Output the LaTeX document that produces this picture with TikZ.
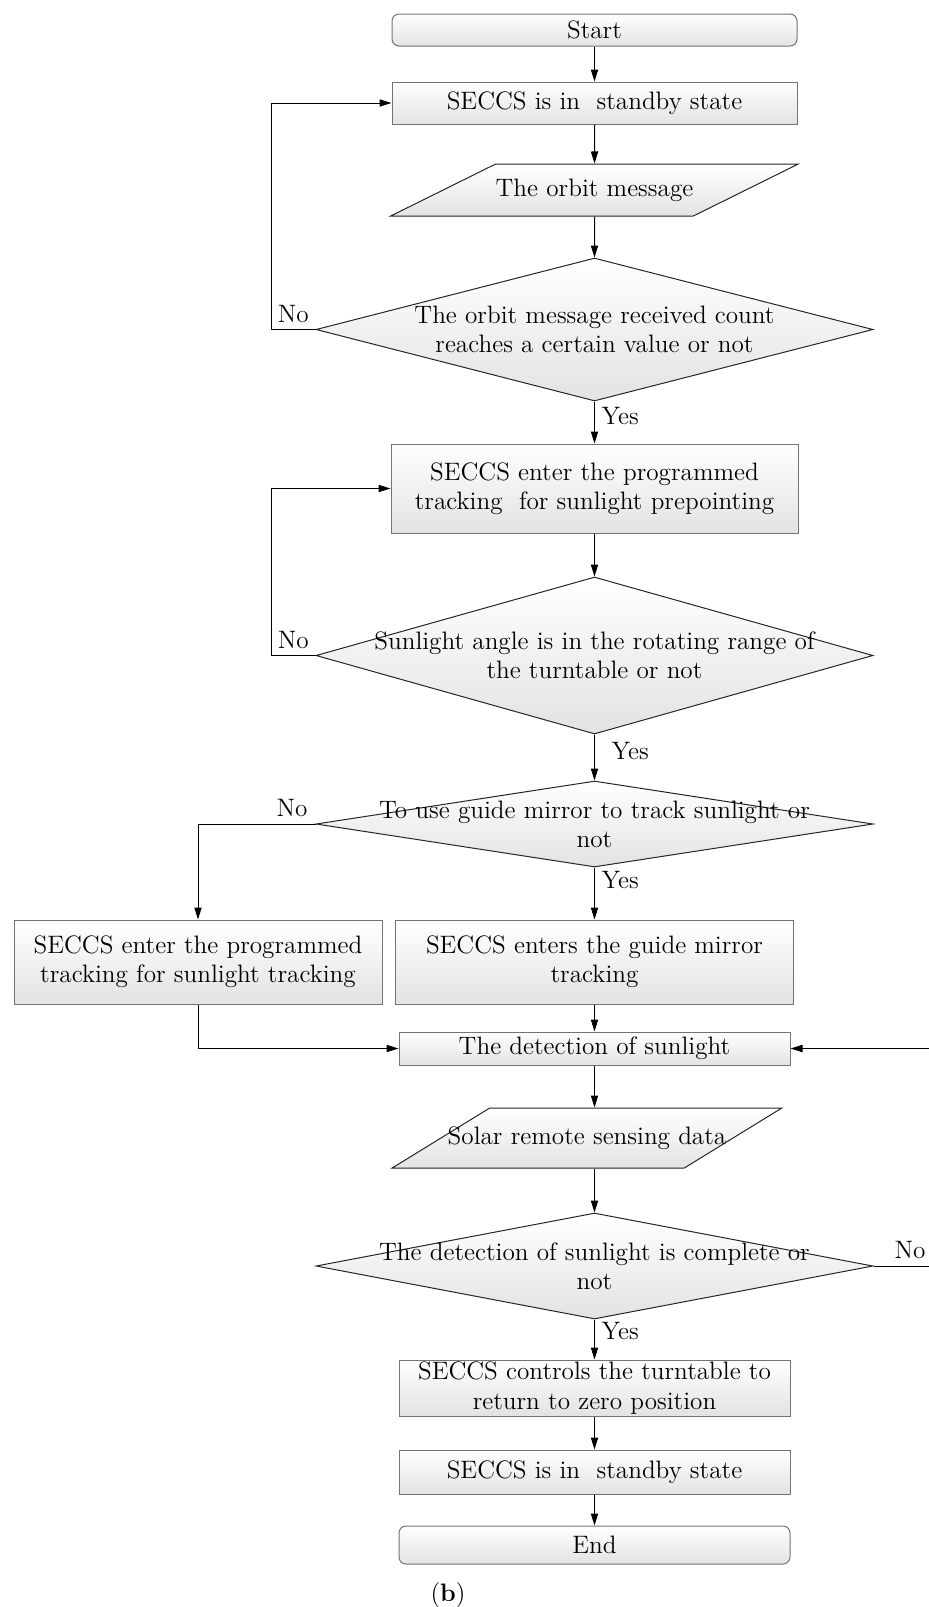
\documentclass[tikz,border=0pt]{standalone}
\usetikzlibrary{shapes.geometric,arrows.meta}

\begin{document}
\begin{tikzpicture}[x=0.5pt, y=-0.5pt,
    font=\fontsize{12.6}{14.6}\selectfont,
    shadebox/.style={top color=white, bottom color=black!11, line width=0.5pt},
    process/.style={shadebox, draw=black!55, rectangle, align=center, inner sep=0pt},
    terminal/.style={process, rounded corners=3.5pt},
    decision/.style={shadebox, draw=black!85, diamond, inner sep=0pt, minimum width=278.5pt},
    io/.style={shadebox, draw=black!85, trapezium, inner xsep=0pt, text height=8.5pt, text depth=2.5pt},
    arrow/.style={-{Triangle[length=6pt,width=3.6pt]}, line width=0.5pt}]
                \useasboundingbox (0,0) rectangle (929,1607);
                % Blocks:
                \node[terminal, minimum width=202.5pt, minimum height=16pt] (start) at (594.5,30) {Start};
                \node[process, minimum width=202.5pt, minimum height=21pt] (standbyA) at (594.5,103) {SECCS is in\ \ standby state};
                \node[io, trapezium left angle=26.35, trapezium right angle=153.65, inner ysep=7.5pt] (orbit) at (594.5,190) {The orbit message};
                \node[decision, minimum height=71.5pt, label={[align=center]center:{The orbit message received count\\reaches a certain value or not}}] (countDec) at (594.5,329.5) {};
                \node[process, minimum width=203.5pt, minimum height=44.5pt] (prepoint) at (594.5,488.5) {SECCS enter the programmed\\tracking\ \ for sunlight prepointing};
                \node[decision, minimum height=78.5pt, label={[align=center]center:{Sunlight angle is in the rotating range of\\the turntable or not}}] (angleDec) at (594.5,655.5) {};
                \node[decision, minimum height=43pt, label={[align=center]center:{To use guide mirror to track sunlight or\\not}}] (mirrorDec) at (594.5,824) {};
                \node[process, minimum width=184pt, minimum height=42pt] (progTrack) at (198,962) {SECCS enter the programmed\\tracking for sunlight tracking};
                \node[process, minimum width=199pt, minimum height=42pt] (guideTrack) at (594.5,962) {SECCS enters the guide mirror\\tracking};
                \node[process, minimum width=195.5pt, minimum height=16.5pt] (detect) at (594.5,1048.5) {The detection of sunlight};
                \node[io, trapezium left angle=31.6, trapezium right angle=148.4, inner ysep=9.5pt, inner xsep=-21pt] (solar) at (587,1138) {Solar remote sensing data};
                \node[decision, minimum height=53pt, label={[align=center]center:{The detection of sunlight is complete or\\not}}] (doneDec) at (594.5,1266) {};
                \node[process, minimum width=195.5pt, minimum height=28pt] (zeroPos) at (594.5,1388) {SECCS controls the turntable to\\return to zero position};
                \node[process, minimum width=195.5pt, minimum height=22pt] (standbyB) at (594.5,1472) {SECCS is in\ \ standby state};
                \node[terminal, minimum width=195.5pt, minimum height=19pt] (end) at (594.5,1545) {End};
                \node (caption) at (448,1595) {(\textbf{b})};
                \coordinate (loopL) at (271,0);
                \coordinate (loopR) at (940,0);
                % Connectors:
                \draw[arrow] (start) -- (standbyA);
                \draw[arrow] (standbyA) -- (orbit);
                \draw[arrow] (orbit) -- (countDec);
                \draw[arrow] (countDec) -- node[pos=0.35, right]{Yes} (prepoint);
                \draw[arrow] (countDec.west) -- node[above]{No} (countDec.west -| loopL) |- (standbyA.west);
                \draw[arrow] (prepoint) -- (angleDec);
                \draw[arrow] (angleDec) -- node[pos=0.36, right=5pt]{Yes} (mirrorDec);
                \draw[arrow] (angleDec.west) -- node[above]{No} (angleDec.west -| loopL) |- (prepoint.west);
                \draw[arrow] (mirrorDec) -- node[pos=0.25, right]{Yes} (guideTrack);
                \draw[arrow] (mirrorDec.west) -- node[pos=0.2, above]{No} (mirrorDec.west -| progTrack) -- (progTrack);
                \draw[arrow] (guideTrack) -- (detect);
                \draw[arrow] (progTrack) |- (detect);
                \draw[arrow] (detect) -- (detect.south |- solar.north);
                \draw[arrow] (detect.south |- solar.south) -- (doneDec);
                \draw[arrow] (doneDec) -- node[pos=0.3, right]{Yes} (zeroPos);
                \draw[arrow] (doneDec.east) -- node[pos=0.55, above]{No} (doneDec.east -| loopR) |- (detect.east);
                \draw[arrow] (zeroPos) -- (standbyB);
                \draw[arrow] (standbyB) -- (end);
            \end{tikzpicture}
\end{document}
